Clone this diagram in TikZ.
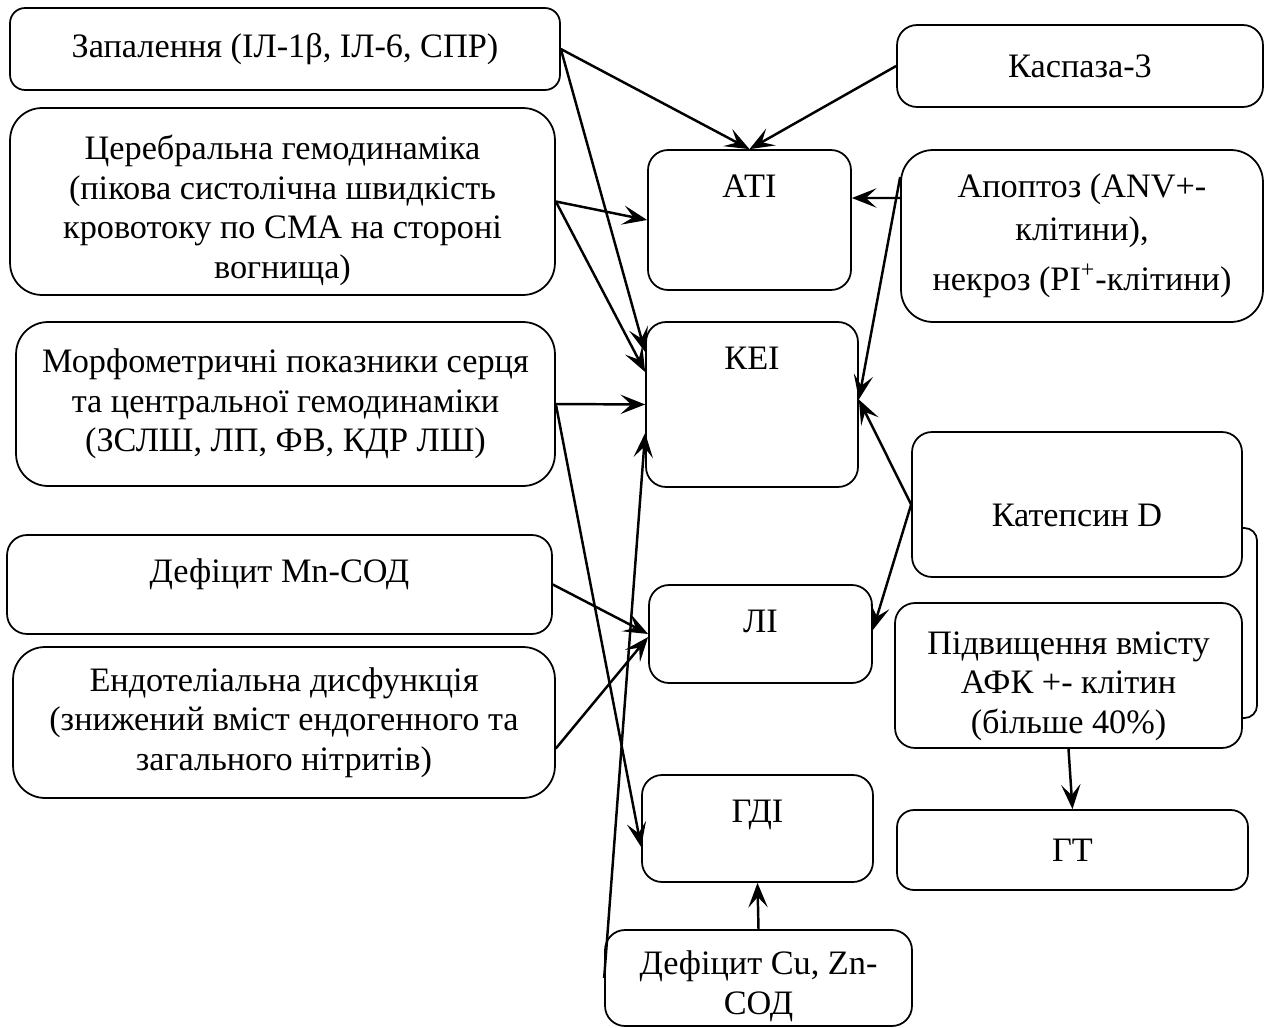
\documentclass[tikz,border=0pt]{standalone}
\usepackage{fontspec}
\setmainfont{Liberation Serif}
\usetikzlibrary{arrows.meta,positioning}

\begin{document}
\begin{tikzpicture}[x=0.02cm, y=-0.02cm, >={Stealth[length=14pt,width=11pt,inset=6pt]},
    box/.style={draw, fill=white, rounded corners=0.4cm, line width=1pt, align=center, inner sep=0pt, font=\fontsize{19.5}{22.5}\selectfont},
    bigbox/.style={box, rounded corners=0.64cm},
    toptext/.style={text height=0.94cm, text depth=#1},
    link/.style={->, line width=1.4pt}]
    \useasboundingbox (0,0) rectangle (1269,1028);

    % left column
    \node[box, rounded corners=0.3cm, minimum width=11cm, minimum height=1.64cm] (zap) at (285,49) {Запалення (ІЛ-1β, ІЛ-6, СПР)};
    \node[bigbox, minimum width=10.9cm, minimum height=3.74cm] (cereb) at (282.5,201.5) {\rule{0pt}{24pt}Церебральна гемодинаміка\\(пікова систолічна швидкість\\кровотоку по СМА на стороні\\вогнища)};
    \node[bigbox, minimum width=10.78cm, minimum height=3.28cm] (morph) at (285.5,404) {Морфометричні показники серця\\та центральної гемодинаміки\\(ЗСЛШ, ЛП, ФВ, КДР ЛШ)};
    \node[box, toptext=1.04cm, minimum width=10.9cm] (mnsod) at (279.5,584.5) {Дефіцит Mn-СОД};
    \node[bigbox, minimum width=10.84cm, minimum height=3.02cm] (endo) at (284,722.5) {Ендотеліальна дисфункція\\(знижений вміст ендогенного та\\загального нітритів)};

    % middle column
    \node[box, toptext=1.86cm, minimum width=4.06cm] (ati) at (749.5,220) {АТІ};
    \node[box, toptext=2.36cm, minimum width=4.24cm] (kei) at (752,404.5) {КЕІ};
    \node[box, toptext=1.02cm, minimum width=4.46cm] (li) at (760.5,634) {ЛІ};
    \node[box, toptext=1.2cm, minimum width=4.62cm] (gdi) at (757.5,828.5) {ГДІ};
    \node[box, minimum width=6.14cm, minimum height=1.92cm] (cuzn) at (758.5,978) {\rule{0pt}{23pt}Дефіцит Cu, Zn-\\СОД};

    % right column
    \node[box, minimum width=7.32cm, minimum height=1.64cm] (kasp) at (1080,66) {Каспаза-3};
    \node[bigbox, minimum width=7.24cm, minimum height=3.44cm] (apop) at (1082,236) {Апоптоз (ANV+-\\[2pt]клітини),\\[6pt]некроз (PI\textsuperscript{+}-клітини)};
    \node[box, text height=1.88cm, text depth=1.02cm, minimum width=6.6cm] (katep) at (1077,504.5) {Катепсин D};
    \node[box, minimum width=6.94cm, minimum height=2.9cm] (pidv) at (1068.5,675.5) {\rule{0pt}{25pt}Підвищення вмісту\\АФК +- клітин\\(більше 40\%)};
    \node[box, rounded corners=0.34cm, minimum width=7.02cm, minimum height=1.6cm] (gt) at (1072.5,850) {ГТ};

    \draw[line width=1pt, rounded corners=0.25cm] (1242,528) -- (1257,528) -- (1257,718) -- (1242,718);

    \path[link] (zap.east) edge (ati.north)
        (zap.east) edge ([yshift=1.05cm]kei.west)
        (kasp.west) edge (ati.north)
        (cereb.east) edge (ati.west)
        (cereb.east) edge ([yshift=0.65cm]kei.west)
        ([yshift=0.76cm]apop.west) edge ([yshift=0.44cm]ati.east)
        ([yshift=1.18cm]apop.west) edge ([yshift=0.1cm]kei.east)
        (morph.east) edge (kei.west)
        (morph.east) edge ([yshift=-0.37cm]gdi.west)
        (cuzn.west) edge ([yshift=-0.57cm]kei.west)
        (mnsod.east) edge (li.west)
        ([yshift=-0.52cm]endo.east) edge ([yshift=-0.06cm]li.west)
        (katep.west) edge ([yshift=0.1cm]kei.east)
        (katep.west) edge ([yshift=0.08cm]li.east)
        (pidv.south) edge (gt.north)
        (cuzn.north) edge (gdi.south);
\end{tikzpicture}
\end{document}
